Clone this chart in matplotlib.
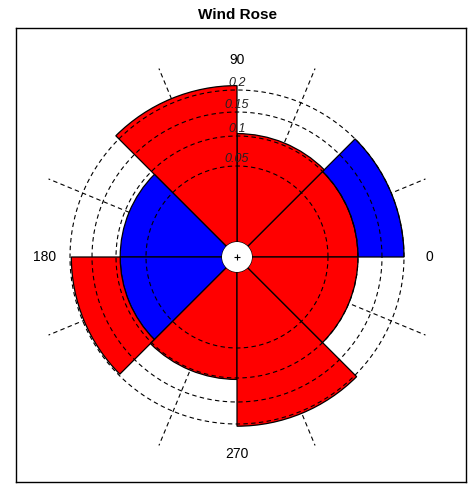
import numpy as np
import matplotlib
matplotlib.use("Agg")
import matplotlib.pyplot as plt
from matplotlib.patches import Wedge, Circle

plt.rcParams['font.family'] = ['Liberation Sans', 'DejaVu Sans']

# data
sector_start = [0, 45, 90, 135, 180, 225, 270, 315]
inner_vals = [0.10, 0.105, 0.21, 0.093, 0.093, 0.103, 0.205, 0.10]
inner_cols = ['red', 'red', 'red', 'blue', 'blue', 'red', 'red', 'red']
outer_vals = [0.20, None, None, None, 0.197, None, None, None]
outer_cols = ['blue', None, None, None, 'red', None, None, None]
ring_vals = [0.05, 0.1, 0.15, 0.2]
ring_labels = ['0.05', '0.1', '0.15', '0.2']
dir_angles = [0, 90, 180, 270]
dir_labels = ['0', '90', '180', '270']

# radial scale (value -> plot radius)
scale_v = [0.0, 0.05, 0.1, 0.15, 0.2, 0.25]
scale_r = [15, 91, 121, 145, 167, 189]
def R(v):
    return float(np.interp(v, scale_v, scale_r))

fig = plt.figure(figsize=(4.74, 4.97), dpi=100)
ax = fig.add_axes([16/474, 15/497, 450/474, 454/497])
ax.set_xlim(-221, 229)
ax.set_ylim(-225, 229)
ax.set_xticks([]); ax.set_yticks([])
for s in ax.spines.values():
    s.set_linewidth(1.0)

# dashed spokes (under bars)
for a in np.arange(22.5, 360, 45):
    t = np.radians(a)
    ax.plot([0, 204*np.cos(t)], [0, 204*np.sin(t)], ls=(0, (4, 3)), color='black', lw=0.8, zorder=1)

for i, a0 in enumerate(sector_start):
    ax.add_patch(Wedge((0, 0), R(inner_vals[i]), a0, a0+45, width=R(inner_vals[i])-15,
                       facecolor=inner_cols[i], edgecolor='black', lw=0.9, zorder=2))
    if outer_vals[i] is not None:
        r1 = R(inner_vals[i]); r2 = R(outer_vals[i])
        ax.add_patch(Wedge((0, 0), r2, a0, a0+45, width=r2-r1,
                           facecolor=outer_cols[i], edgecolor='black', lw=0.9, zorder=2))

th = np.linspace(0, 2*np.pi, 400)
for v, lab in zip(ring_vals, ring_labels):
    r = R(v)
    ax.plot(r*np.cos(th), r*np.sin(th), ls=(0, (4, 3)), color='black', lw=0.8, zorder=3)
    ax.text(0, r+7, lab, ha='center', va='center', fontsize=9, style='italic', color='#222222', zorder=5)

ax.add_patch(Circle((0, 0), 15, facecolor='white', edgecolor='none', zorder=4))
ax.plot([0], [0], marker='+', color='black', ms=5, mew=0.8, zorder=5)

for a, lab in zip(dir_angles, dir_labels):
    t = np.radians(a)
    rr = 192 if a in (0, 180) else 197
    ax.text(rr*np.cos(t), rr*np.sin(t), lab, ha='center', va='center', fontsize=10)

fig.text(0.5, 1-15/497, 'Wind Rose', ha='center', va='center', fontsize=11, fontweight='bold')
fig.savefig('out.png', dpi=100)
